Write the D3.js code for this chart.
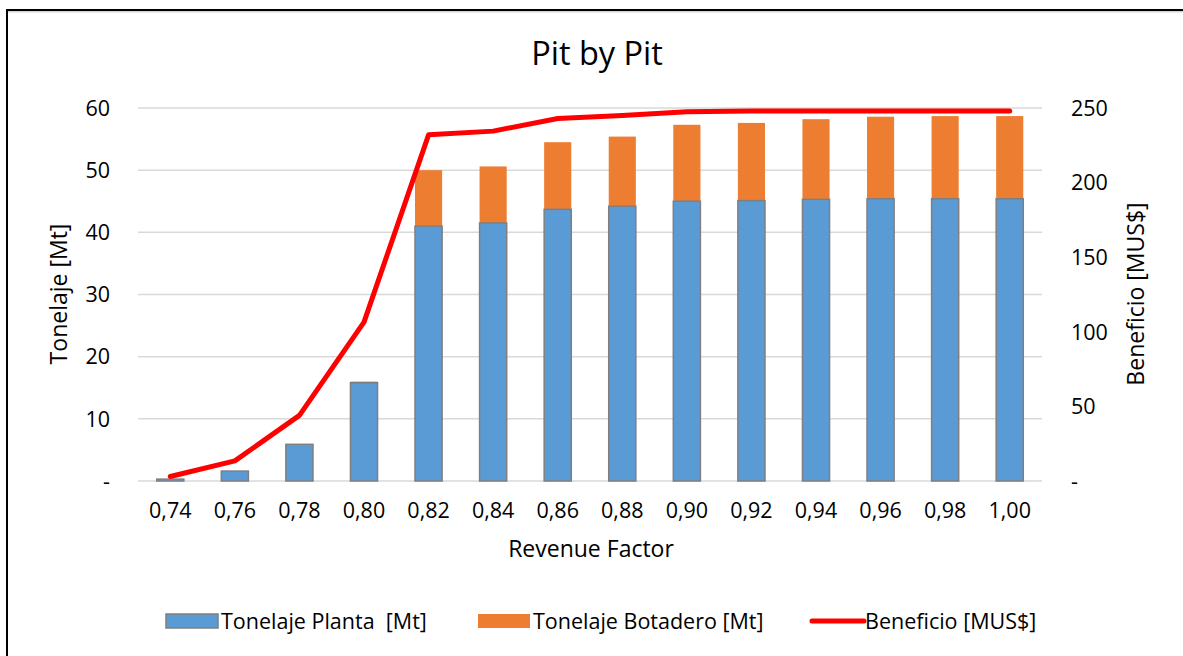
<!DOCTYPE html>
<html>
<head>
<meta charset="utf-8">
<script src="https://cdn.jsdelivr.net/npm/d3@7"></script>
<style>
  html, body { margin: 0; padding: 0; background: #fff; }
  svg { display: block; font-family: 'Open Sans', sans-serif; }
</style>
</head>
<body>
<svg id="chart" width="1183" height="656"></svg>
<script>
// Values
const factors   = ['0,74', '0,76', '0,78', '0,80', '0,82', '0,84', '0,86', '0,88', '0,90', '0,92', '0,94', '0,96', '0,98', '1,00'];
const planta    = [0.3, 1.6, 5.9, 15.8, 41.0, 41.5, 43.7, 44.2, 45.0, 45.1, 45.3, 45.4, 45.4, 45.4];
const botadero  = [0.0, 0.0, 0.0, 0.2, 9.0, 9.1, 10.8, 11.2, 12.3, 12.5, 12.9, 13.2, 13.3, 13.3];
const beneficio = [3, 13.5, 44, 106.5, 232, 234.5, 243, 245, 247.5, 248, 248, 248, 248, 248];
const leftTicks  = [0, 10, 20, 30, 40, 50, 60];
const rightTicks = [0, 50, 100, 150, 200, 250];

const C = { planta: '#5b9bd5', botadero: '#ed7d31', line: '#ff0000', grid: '#d9d9d9', text: '#000' };

const svg = d3.select('#chart');
const plot = { left: 138, right: 1042, top: 108, bottom: 481 };

// Frame (only top and left edges show in the crop)
svg.append('line').attr('x1', 6).attr('x2', 1183).attr('y1', 10).attr('y2', 10)
  .attr('stroke', '#000').attr('stroke-width', 2);
svg.append('line').attr('x1', 8).attr('x2', 1183).attr('y1', 11.8).attr('y2', 11.8)
  .attr('stroke', '#bfbfbf').attr('stroke-width', 1);
svg.append('line').attr('x1', 7).attr('x2', 7).attr('y1', 9).attr('y2', 656)
  .attr('stroke', '#000').attr('stroke-width', 2);

const x = d3.scaleBand().domain(factors).range([plot.left, plot.right])
  .paddingInner(0.58).paddingOuter(0.29);
const yL = d3.scaleLinear().domain([0, 60]).range([plot.bottom, plot.top]);
const yR = d3.scaleLinear().domain([0, 250]).range([plot.bottom, plot.top]);

// Gridlines
svg.append('g').selectAll('line').data(leftTicks).join('line')
  .attr('x1', plot.left).attr('x2', plot.right)
  .attr('y1', d => yL(d)).attr('y2', d => yL(d))
  .attr('stroke', C.grid).attr('stroke-width', 1.5);

// Left axis labels
const fmtTick = d => d === 0 ? '-' : d;
svg.append('g').selectAll('text').data(leftTicks).join('text')
  .attr('x', 110).attr('y', d => yL(d)).attr('dy', '0.36em')
  .attr('text-anchor', 'end').attr('font-size', 21.5).attr('fill', C.text)
  .text(fmtTick);

// Right axis labels
svg.append('g').selectAll('text').data(rightTicks).join('text')
  .attr('x', 1071).attr('y', d => yR(d)).attr('dy', '0.36em')
  .attr('text-anchor', 'start').attr('font-size', 21.5).attr('fill', C.text)
  .text(fmtTick);

// Category labels
svg.append('g').selectAll('text').data(factors).join('text')
  .attr('x', d => x(d) + x.bandwidth() / 2).attr('y', 518)
  .attr('text-anchor', 'middle').attr('font-size', 21.5).attr('fill', C.text)
  .text(d => d);

// Stacked bars
const rows = factors.map((f, i) => ({ f, planta: planta[i], botadero: botadero[i] }));
const stack = d3.stack().keys(['planta', 'botadero'])(rows);

svg.append('g').selectAll('rect').data(stack[1]).join('rect')
  .attr('x', d => x(d.data.f)).attr('width', x.bandwidth())
  .attr('y', d => yL(d[1])).attr('height', d => yL(d[0]) - yL(d[1]))
  .attr('fill', C.botadero);

svg.append('g').selectAll('rect').data(stack[0]).join('rect')
  .attr('x', d => x(d.data.f)).attr('width', x.bandwidth())
  .attr('y', d => yL(d[1])).attr('height', d => yL(d[0]) - yL(d[1]))
  .attr('fill', C.planta).attr('stroke', '#7f7f7f').attr('stroke-width', 1.5);

// Beneficio line
const line = d3.line()
  .x((d, i) => x(factors[i]) + x.bandwidth() / 2)
  .y(d => yR(d));
svg.append('path').datum(beneficio)
  .attr('d', line).attr('fill', 'none')
  .attr('stroke', C.line).attr('stroke-width', 5)
  .attr('stroke-linejoin', 'round').attr('stroke-linecap', 'round');

// Titles
svg.append('text').attr('x', 597).attr('y', 65).attr('text-anchor', 'middle')
  .attr('font-size', 32.5).attr('fill', C.text).text('Pit by Pit');
svg.append('text').attr('x', 591).attr('y', 557).attr('text-anchor', 'middle')
  .attr('font-size', 23).attr('fill', C.text).text('Revenue Factor');
svg.append('text').attr('transform', 'translate(67,294) rotate(-90)')
  .attr('text-anchor', 'middle').attr('font-size', 23).attr('fill', C.text).text('Tonelaje [Mt]');
svg.append('text').attr('transform', 'translate(1144,294) rotate(-90)')
  .attr('text-anchor', 'middle').attr('font-size', 23).attr('fill', C.text).text('Beneficio [MUS$]');

// Legend
const legend = [
  { label: 'Tonelaje Planta  [Mt]', type: 'rect', fill: C.planta, stroke: '#7f7f7f', x: 166 },
  { label: 'Tonelaje Botadero [Mt]', type: 'rect', fill: C.botadero, stroke: 'none', x: 478 },
  { label: 'Beneficio [MUS$]', type: 'line', fill: C.line, x: 810 }
];
const lg = svg.append('g').selectAll('g').data(legend).join('g')
  .attr('transform', d => `translate(${d.x},621)`);
lg.filter(d => d.type === 'rect').append('rect')
  .attr('x', 0).attr('y', -7).attr('width', 52).attr('height', 14)
  .attr('fill', d => d.fill).attr('stroke', d => d.stroke).attr('stroke-width', 1.5);
lg.filter(d => d.type === 'line').append('line')
  .attr('x1', 2).attr('x2', 54).attr('y1', 0).attr('y2', 0)
  .attr('stroke', d => d.fill).attr('stroke-width', 5).attr('stroke-linecap', 'round');
lg.append('text').attr('x', 55).attr('y', 0).attr('dy', '0.36em')
  .attr('font-size', 21.5).attr('fill', C.text)
  .style('white-space', 'pre')
  .text(d => d.label);
</script>
</body>
</html>
